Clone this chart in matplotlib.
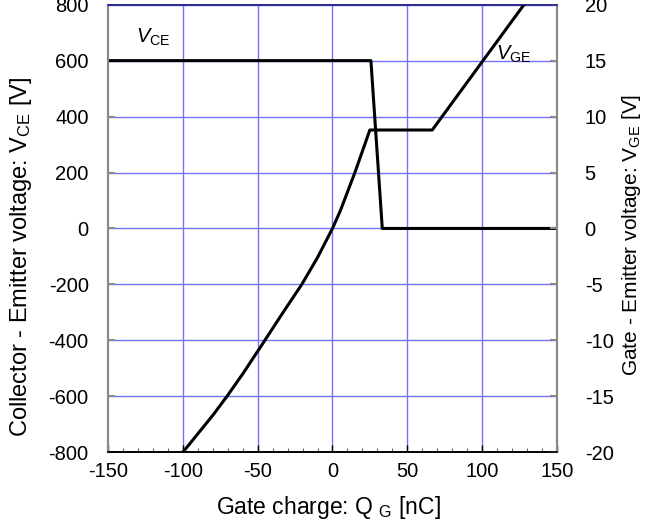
import matplotlib
matplotlib.use("Agg")
import matplotlib.pyplot as plt
from matplotlib.ticker import MultipleLocator

plt.rcParams['font.family'] = ['Liberation Sans', 'DejaVu Sans']
plt.rcParams['mathtext.fontset'] = 'custom'
plt.rcParams['mathtext.rm'] = 'Liberation Sans'
plt.rcParams['mathtext.it'] = 'Liberation Sans:italic'

# Data
vce_q = [-150, 25.7, 33.3, 150]
vce_v = [600, 600, 0, 0]

vge_q = [-100, -90, -80, -70.5, -60, -45.2, -33, -20.5, -10, 0, 5.3, 15, 25, 66.7, 128]
vge_v = [-20, -18.35, -16.7, -15, -13.0, -10, -7.5, -5, -2.6, 0, 1.6, 5, 8.8, 8.8, 20]

x_ticks = [-150, -100, -50, 0, 50, 100, 150]
left_ticks = [-800, -600, -400, -200, 0, 200, 400, 600, 800]
right_ticks = [-20, -15, -10, -5, 0, 5, 10, 15, 20]

fig = plt.figure(figsize=(6.59, 5.21), dpi=100)
ax = fig.add_axes([0.164, 0.132, 0.681, 0.859])
ax2 = ax.twinx()

grid_c = '#7373ff'
for x in x_ticks[1:-1]:
    ax.axvline(x, color=grid_c, lw=1.0, zorder=0)
for y in left_ticks[1:]:
    ax.axhline(y, color=grid_c, lw=1.0, zorder=0)

ax.plot(vce_q, vce_v, color='black', lw=2.2, zorder=3)
ax2.plot(vge_q, vge_v, color='black', lw=2.2, zorder=3)

ax.set_xlim(-150, 150)
ax.set_ylim(-800, 800)
ax2.set_ylim(-20, 20)

ax.set_xticks(x_ticks)
ax.set_yticks(left_ticks)
ax2.set_yticks(right_ticks)
ax.xaxis.set_minor_locator(MultipleLocator(10))

ax.set_yticklabels([str(v) for v in left_ticks])
ax2.set_yticklabels([str(v) for v in right_ticks])
ax.set_xticklabels([str(v) for v in x_ticks])

fs = 14.5
ax.tick_params(axis='x', which='major', direction='in', length=5, width=1, colors='black',
               labelsize=fs, pad=7)
ax.tick_params(axis='x', which='minor', direction='in', length=3, width=0.8, color='#666666')
ax.tick_params(axis='y', direction='in', length=5, width=1.5, color='#888888',
               labelcolor='black', labelsize=fs, pad=14)
ax2.tick_params(axis='y', direction='in', length=5, width=1.5, color='#888888',
                labelcolor='black', labelsize=fs, pad=20)
for lab in ax2.get_yticklabels():
    lab.set_horizontalalignment('left')

for a in (ax, ax2):
    a.spines['left'].set_color('#888888')
    a.spines['right'].set_color('#888888')
    a.spines['left'].set_linewidth(1.5)
    a.spines['right'].set_linewidth(1.5)
    a.spines['bottom'].set_color('black')
    a.spines['bottom'].set_linewidth(1.2)
    a.spines['top'].set_color('#2a2a90')
    a.spines['top'].set_linewidth(1.2)

ax.set_xlabel(r"Gate charge: Q $_{\rm G}$ [nC]", fontsize=16.5)
ax.set_ylabel(r"Collector - Emitter voltage: V$_{\rm CE}$ [V]", fontsize=17)
ax2.set_ylabel(r"Gate - Emitter voltage: V$_{\rm GE}$ [V]", fontsize=15)
ax.xaxis.set_label_coords(0.49, -0.094)
ax.yaxis.set_label_coords(-0.165, 0.436)
ax2.yaxis.set_label_coords(1.140, 0.485)

ax.text(-131, 645, r"$\mathit{V}_{\rm CE}$", fontsize=fs, ha='left', va='bottom', zorder=4)
ax.text(109, 585, r"$\mathit{V}_{\rm GE}$", fontsize=fs, ha='left', va='bottom', zorder=4)

fig.savefig("out.png", dpi=100)
